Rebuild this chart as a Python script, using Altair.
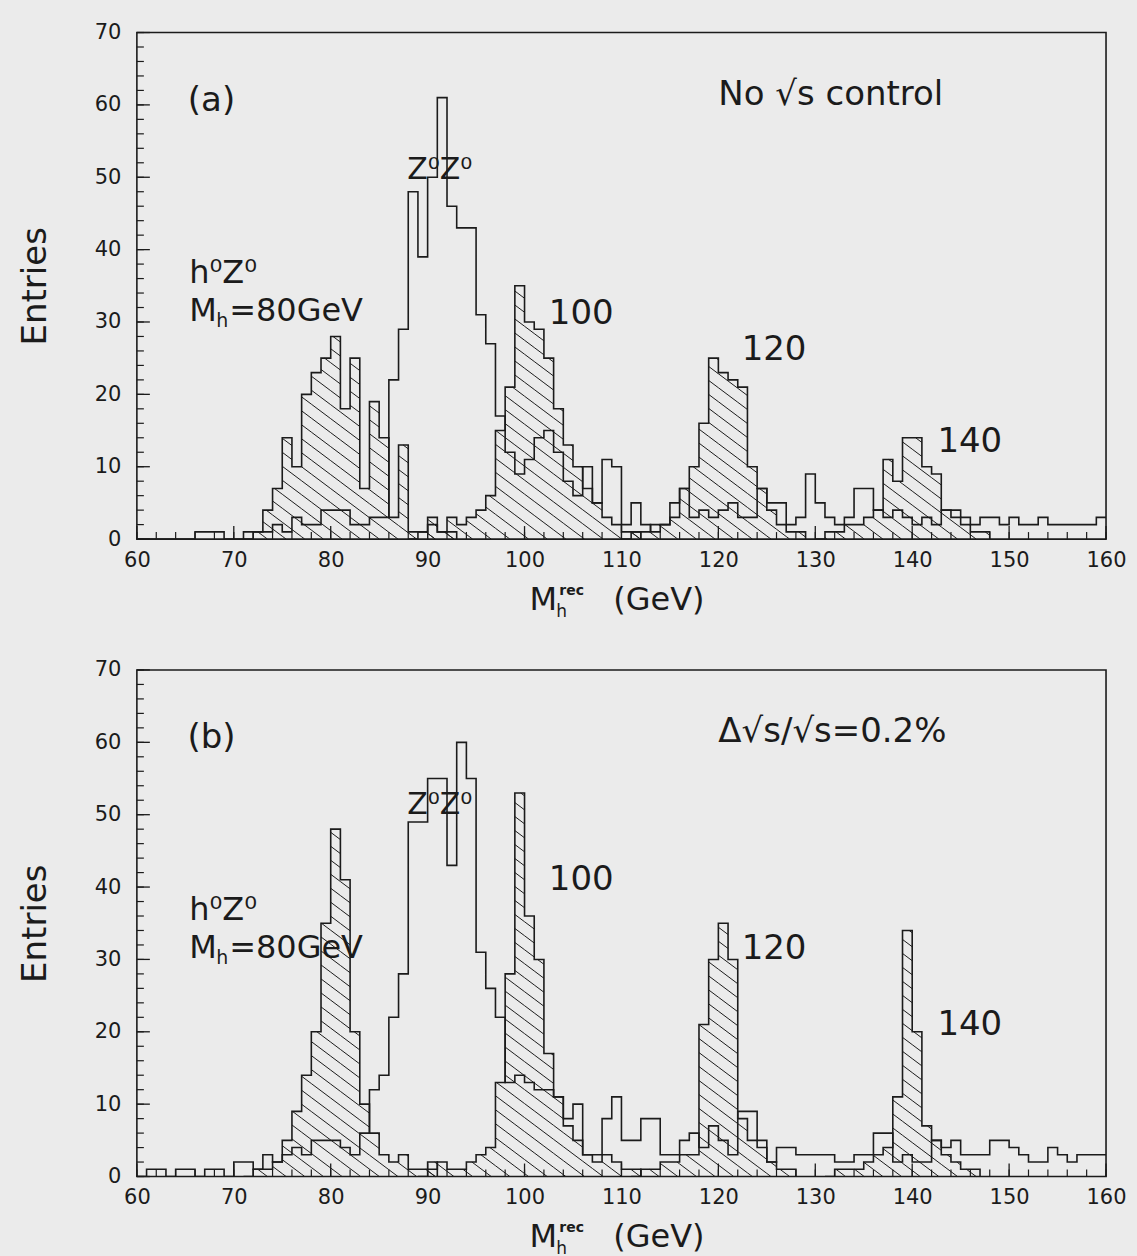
import math
import altair as alt
import pandas as pd

# ---------------- data (bin contents, 1 GeV bins from 60 to 160) ----------------
bg_a = [0, 0, 0, 0, 0, 0, 1, 1, 1, 0,
        0, 1, 1, 1, 2, 1, 3, 2, 2, 4,
        4, 4, 2, 2, 3, 3, 22, 29, 48, 39,
        50, 61, 46, 43, 43, 31, 27, 17, 12, 9,
        11, 14, 15, 12, 8, 6, 10, 5, 11, 10,
        2, 5, 2, 1, 2, 5, 7, 3, 4, 3,
        4, 5, 3, 3, 7, 5, 5, 2, 3, 9,
        5, 3, 2, 3, 7, 7, 4, 3, 4, 3,
        2, 3, 2, 4, 4, 3, 2, 3, 3, 2,
        3, 2, 2, 3, 2, 2, 2, 2, 2, 3]
sig80_a_start = 72
sig80_a = [1, 4, 7, 14, 10, 20, 23, 25, 28, 18, 25, 7, 19, 14, 3, 13, 1, 1, 2, 1, 1]
sig100_a_start = 89
sig100_a = [1, 3, 1, 3, 2, 3, 4, 6, 15, 21, 35, 30, 29, 25, 18, 13, 10, 7, 5, 3, 2, 1, 1]
sig120_a_start = 111
sig120_a = [1, 1, 2, 2, 3, 7, 10, 16, 25, 23, 22, 21, 10, 7, 4, 2, 1, 1]
sig140_a_start = 131
sig140_a = [1, 1, 2, 2, 3, 4, 11, 8, 14, 14, 10, 9, 4, 3, 2, 1, 1]

bg_b = [0, 1, 1, 0, 1, 1, 0, 1, 1, 0,
        2, 2, 1, 3, 2, 3, 4, 3, 5, 5,
        5, 4, 3, 6, 12, 14, 22, 28, 49, 49,
        55, 55, 43, 60, 55, 31, 26, 22, 13, 14,
        13, 12, 12, 11, 8, 10, 3, 3, 8, 11,
        5, 5, 8, 8, 3, 3, 5, 6, 4, 7,
        5, 3, 9, 9, 5, 2, 4, 4, 3, 3,
        3, 3, 2, 2, 3, 3, 6, 6, 2, 3,
        2, 2, 5, 4, 5, 3, 3, 3, 5, 5,
        4, 3, 2, 2, 4, 3, 2, 3, 3, 3]
sig80_b_start = 72
sig80_b = [1, 1, 2, 5, 9, 14, 20, 35, 48, 41, 20, 10, 6, 3, 2, 3, 1, 1, 2]
sig100_b_start = 90
sig100_b = [1, 2, 1, 1, 2, 3, 4, 13, 28, 53, 36, 30, 17, 11, 7, 5, 3, 2, 3, 2, 1, 1]
sig120_b_start = 112
sig120_b = [1, 1, 2, 2, 3, 3, 21, 30, 35, 30, 8, 5, 4, 2, 1, 1]
sig140_b_start = 132
sig140_b = [1, 1, 1, 2, 3, 4, 11, 34, 20, 7, 5, 3, 2, 1, 1]

x_tick_labels = list(range(60, 161, 10))
y_tick_labels = list(range(0, 71, 10))
x_minor = list(range(60, 161, 2))
y_minor = list(range(0, 71, 2))

# ---------------- styling ----------------
FONT = "DejaVu Sans"
INK = "#1b1b1b"
BG = "#ebebeb"
W, H = 970, 507
XMIN, XMAX, YMAX = 60, 160, 70
SX = W / (XMAX - XMIN)
SY = H / YMAX
HATCH_SLOPE = 0.75
HATCH_GAP = 14.0

xs = alt.Scale(domain=[XMIN, XMAX], nice=False, zero=False)
ys = alt.Scale(domain=[0, YMAX], nice=False)
xaxis = alt.Axis(values=x_tick_labels, ticks=False, domain=False, grid=False,
                 labelFont=FONT, labelFontSize=21, labelColor=INK, labelPadding=10,
                 labelFlush=False, labelOverlap=False, title=None)
yaxis = alt.Axis(values=y_tick_labels, ticks=False, domain=False, grid=False,
                 labelFont=FONT, labelFontSize=21, labelColor=INK, labelPadding=16,
                 labelFlush=False, labelOverlap=False,
                 title="Entries", titleFont=FONT, titleFontSize=34,
                 titleFontWeight="normal", titleColor=INK, titlePadding=42)


def X(field):
    return alt.X(field, type="quantitative", scale=xs, axis=xaxis)


def Y(field):
    return alt.Y(field, type="quantitative", scale=ys, axis=yaxis)


def outline_df(series):
    rows = []
    for name, start, vals in series:
        if start > XMIN:
            rows.append({"s": name, "x": start - 1, "v": 0})
        for i, v in enumerate(vals):
            rows.append({"s": name, "x": start + i, "v": v})
        end = start + len(vals)
        rows.append({"s": name, "x": end, "v": 0 if end < XMAX else vals[-1]})
    return pd.DataFrame(rows)


def hatch_df(signals):
    segs = []
    for start, vals in signals:
        for i, v in enumerate(vals):
            if v <= 0:
                continue
            xa = (start + i - XMIN) * SX
            xb = xa + SX
            hp = v * SY
            cmin = HATCH_SLOPE * xa
            cmax = hp + HATCH_SLOPE * xb
            for n in range(math.ceil(cmin / HATCH_GAP), math.floor(cmax / HATCH_GAP) + 1):
                c = n * HATCH_GAP
                lo = max(xa, (c - hp) / HATCH_SLOPE)
                hi = min(xb, c / HATCH_SLOPE)
                if hi - lo > 0.4:
                    segs.append({"x": XMIN + lo / SX, "v": (c - HATCH_SLOPE * lo) / SY,
                                 "x2": XMIN + hi / SX, "v2": (c - HATCH_SLOPE * hi) / SY})
    return pd.DataFrame(segs)


def label(text, x, v, size, dx=0, dy=0, align="left", weight="normal"):
    df = pd.DataFrame({"x": [x], "v": [v], "t": [text]})
    return alt.Chart(df).mark_text(align=align, baseline="alphabetic", font=FONT,
                                   fontSize=size, fontWeight=weight, dx=dx, dy=dy,
                                   color=INK).encode(x=X("x"), y=Y("v"), text="t:N")


def panel(bg, sigs, tag, corner_text, ann):
    series = [("bg", XMIN, bg)] + [("s%d" % k, s, vals) for k, (s, vals) in enumerate(sigs)]
    hatch = alt.Chart(hatch_df(sigs)).mark_rule(color=INK, strokeWidth=1).encode(
        x=X("x"), x2="x2", y=Y("v"), y2="v2")
    lines = alt.Chart(outline_df(series)).mark_line(
        interpolate="step-after", color=INK, strokeWidth=1.6, clip=True).encode(
        x=X("x"), y=Y("v"), detail="s:N")
    ymaj = alt.Chart(pd.DataFrame({"t": y_tick_labels})).mark_rule(color=INK, strokeWidth=1.3).encode(
        y=Y("t"), x=alt.value(0), x2=alt.value(13))
    ymin = alt.Chart(pd.DataFrame({"t": y_minor})).mark_rule(color=INK, strokeWidth=1.2).encode(
        y=Y("t"), x=alt.value(0), x2=alt.value(7))
    xmaj = alt.Chart(pd.DataFrame({"t": x_tick_labels})).mark_rule(color=INK, strokeWidth=1.3).encode(
        x=X("t"), y=alt.value(H), y2=alt.value(H - 13))
    xmin = alt.Chart(pd.DataFrame({"t": x_minor})).mark_rule(color=INK, strokeWidth=1.2).encode(
        x=X("t"), y=alt.value(H), y2=alt.value(H - 7))
    texts = [
        label(tag, 67.7, 59.2, 34, align="center"),
        label(corner_text, 120.0, 60.0, 34),
        label("Z\u2070Z\u2070", 87.9, ann["zz"], 30),
        label("h\u2070Z\u2070", 65.4, 35.4, 32),
        label("M", 65.4, 30.2, 32),
        label("h", 65.4, 30.2, 19, dx=27, dy=6),
        label("=80GeV", 65.4, 30.2, 32, dx=40),
        label("100", 102.5, ann["100"], 34),
        label("120", 122.4, ann["120"], 34),
        label("140", 142.6, ann["140"], 34),
        # x-axis title  M_h^rec (GeV)
        label("M", 100.5, -9.8, 32),
        label("h", 100.5, -9.8, 17, dx=27, dy=7),
        label("rec", 100.5, -9.8, 14, dx=30, dy=-15, weight="bold"),
        label("(GeV)", 100.5, -9.8, 32, dx=84),
    ]
    return alt.layer(hatch, lines, ymaj, ymin, xmaj, xmin, *texts).properties(width=W, height=H)


pa = panel(bg_a,
           [(sig80_a_start, sig80_a), (sig100_a_start, sig100_a),
            (sig120_a_start, sig120_a), (sig140_a_start, sig140_a)],
           "(a)", "No \u221as control",
           {"zz": 49.7, "100": 29.7, "120": 24.7, "140": 12.0})
pb = panel(bg_b,
           [(sig80_b_start, sig80_b), (sig100_b_start, sig100_b),
            (sig120_b_start, sig120_b), (sig140_b_start, sig140_b)],
           "(b)", "\u0394\u221as/\u221as=0.2%",
           {"zz": 50.1, "100": 39.6, "120": 30.0, "140": 19.6})

chart = alt.vconcat(pa, pb, spacing=131, bounds="flush").properties(
    background=BG,
    padding={"top": 20, "left": 17, "right": 10, "bottom": 2},
).configure_view(stroke=INK, strokeWidth=1.6)

chart.save("out.html", embed_options={"renderer": "svg", "actions": False})
